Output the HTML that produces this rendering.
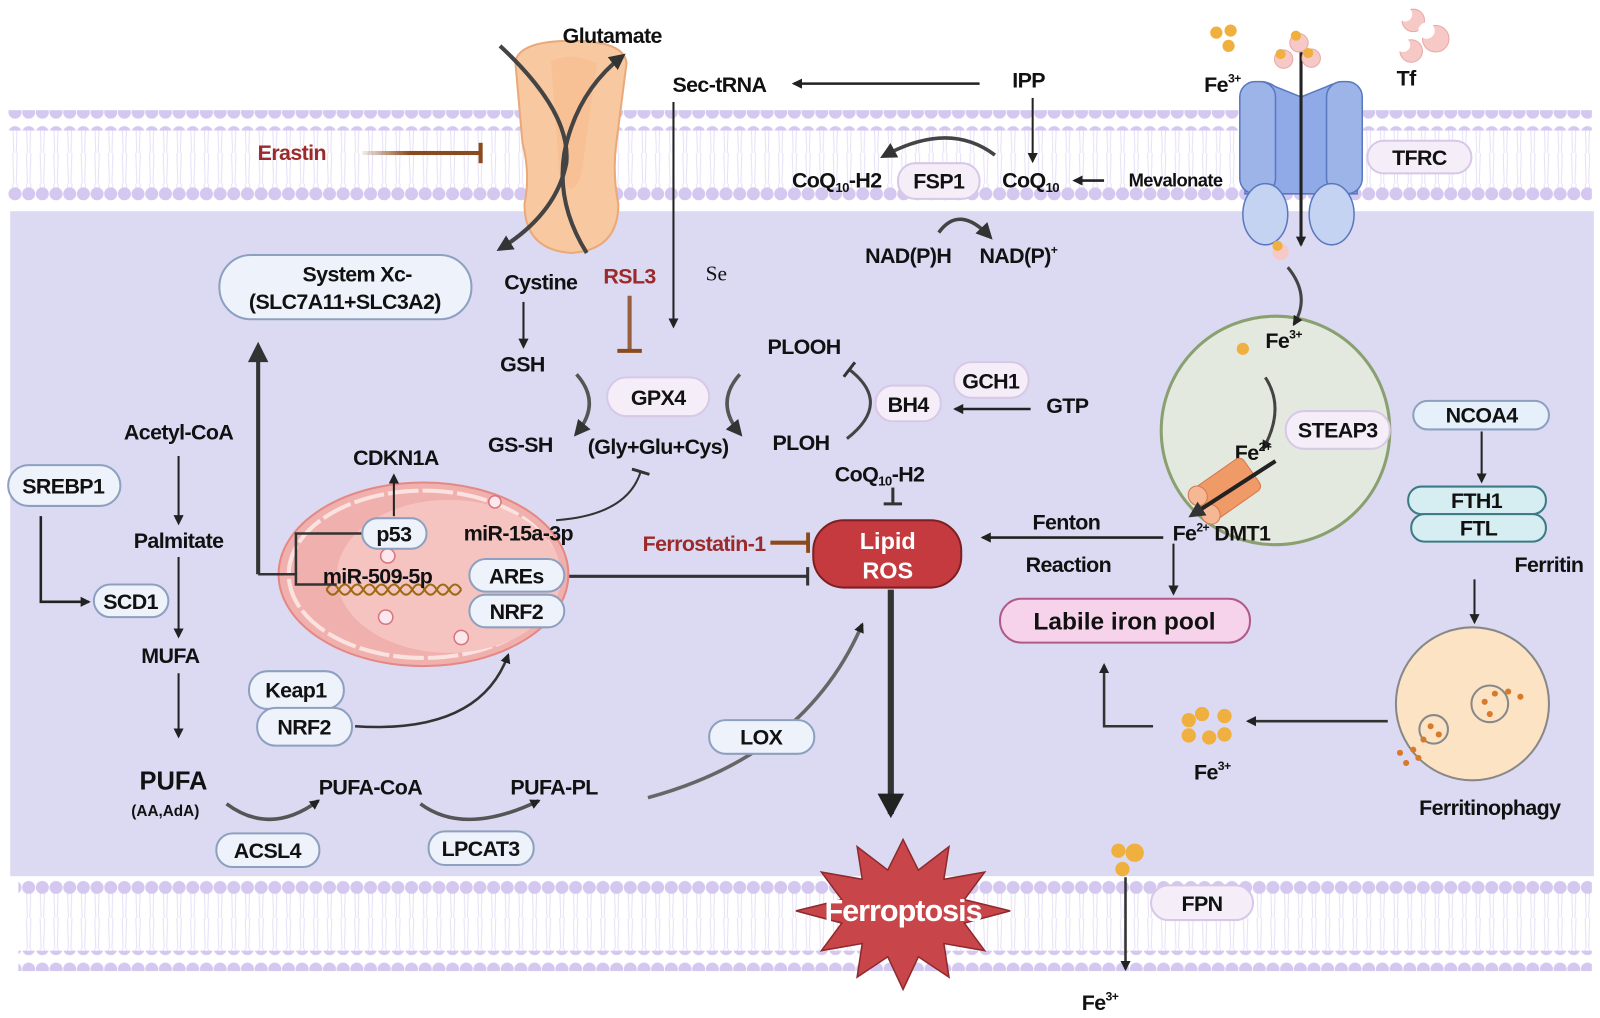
<!DOCTYPE html>
<html><head><meta charset="utf-8"><style>
html,body{margin:0;padding:0;background:#fff;}
svg{display:block}
text{font-family:"Liberation Sans",Arial,sans-serif;font-weight:bold;fill:#111;text-anchor:middle;}
.t{font-size:21px;letter-spacing:-0.6px}
.r{fill:#9b2a2a}
</style></head><body>
<svg width="1600" height="1018" viewBox="0 0 1568 998" preserveAspectRatio="none" xmlns="http://www.w3.org/2000/svg">
<defs>
<pattern id="dots" x="8" y="0" width="13.4" height="20" patternUnits="userSpaceOnUse"><circle cx="6.7" cy="10" r="6.4" fill="#d4c8f0"/></pattern>
<pattern id="tails" x="8" y="0" width="13.4" height="30" patternUnits="userSpaceOnUse"><path d="M4.5 0 L5.5 30 M8.9 0 L7.9 30" stroke="#e6e0f6" stroke-width="1" fill="none"/></pattern>
<marker id="a" markerWidth="10" markerHeight="10" refX="8" refY="5" orient="auto" markerUnits="userSpaceOnUse"><path d="M0 0 L10 5 L0 10 Z" fill="#222"/></marker>
<marker id="A" markerWidth="16" markerHeight="16" refX="12" refY="8" orient="auto" markerUnits="userSpaceOnUse"><path d="M0 0 L16 8 L0 16 Z" fill="#333"/></marker>
<marker id="tee" markerWidth="4" markerHeight="20" refX="2" refY="10" orient="auto" markerUnits="userSpaceOnUse"><rect x="0" y="0" width="4" height="20" fill="#8b4a1e"/></marker>
<marker id="teek" markerWidth="4" markerHeight="18" refX="2" refY="9" orient="auto" markerUnits="userSpaceOnUse"><rect x="0" y="0" width="3" height="18" fill="#333"/></marker>
<linearGradient id="br" gradientUnits="userSpaceOnUse" x1="355" y1="0" x2="472" y2="0"><stop offset="0" stop-color="#8b4a1e" stop-opacity="0.1"/><stop offset="0.4" stop-color="#8b4a1e"/></linearGradient>
</defs>
<!-- cytoplasm -->
<rect x="10" y="207" width="1552" height="652" fill="#dcdaf2"/>
<!-- top membrane -->
<rect x="8" y="126" width="1552" height="60" fill="url(#tails)"/>
<rect x="8" y="108" width="1552" height="20" fill="url(#dots)"/>
<rect x="8" y="183" width="1552" height="20" fill="url(#dots)"/>
<!-- bottom membrane -->
<rect x="18" y="860" width="1542" height="80" fill="#fff"/>
<rect x="18" y="876" width="1542" height="60" fill="url(#tails)"/>
<rect x="18" y="858" width="1542" height="20" fill="url(#dots)"/>
<rect x="18" y="932" width="1542" height="20" fill="url(#dots)"/>

<!-- transporter -->
<path d="M505 60 Q510 40 560 40 Q612 40 614 62 L604 140 Q600 170 606 200 Q606 245 560 248 Q514 245 514 200 Q520 170 512 140 Z" fill="#f8c9a0" stroke="#eaa97a" stroke-width="2"/>
<path d="M540 60 Q560 50 585 62 L570 170 Q560 200 548 170 Z" fill="#f5b98a" opacity="0.5"/>
<path d="M490 45 Q560 110 555 160 Q545 210 490 244" stroke="#444" stroke-width="4" fill="none" marker-end="url(#A)"/>
<path d="M575 248 Q545 200 553 150 Q565 90 610 55" stroke="#444" stroke-width="4" fill="none" marker-end="url(#A)"/>
<text class="t" x="600" y="42">Glutamate</text>

<text class="t" x="705" y="90">Sec-tRNA</text>
<line x1="960" y1="82" x2="778" y2="82" stroke="#222" stroke-width="2.5" marker-end="url(#a)"/>
<text class="t" x="1008" y="86">IPP</text>
<line x1="1012" y1="96" x2="1012" y2="158" stroke="#222" stroke-width="2" marker-end="url(#a)"/>
<text class="t" x="820" y="184">CoQ<tspan font-size="13" dy="4">10</tspan><tspan dy="-4">-H2</tspan></text>
<rect x="880" y="160" width="80" height="35" rx="17" fill="#f5eef9" stroke="#d8c8e8" stroke-width="2"/>
<text class="t" x="920" y="185">FSP1</text>
<text class="t" x="1010" y="184">CoQ<tspan font-size="13" dy="4">10</tspan></text>
<line x1="1082" y1="177" x2="1053" y2="177" stroke="#222" stroke-width="2.5" marker-end="url(#a)"/>
<text class="t" x="1152" y="183" style="font-size:18px">Mevalonate</text>
<path d="M975 152 Q930 118 866 153" stroke="#444" stroke-width="3.5" fill="none" marker-end="url(#A)"/>
<path d="M920 228 Q940 200 970 232" stroke="#444" stroke-width="3.5" fill="none" marker-end="url(#A)"/>
<text class="t" x="890" y="258">NAD(P)H</text>
<text class="t" x="998" y="258">NAD(P)<tspan font-size="12" dy="-9">+</tspan></text>

<text class="t r" x="286" y="157">Erastin</text>
<rect x="355" y="148" width="115" height="4" fill="url(#br)"/>
<rect x="469" y="140" width="4" height="20" fill="#8b4a1e"/>
<line x1="660" y1="100" x2="660" y2="320" stroke="#222" stroke-width="2" marker-end="url(#a)"/>
<text x="702" y="275" style="font-family:'Liberation Serif',serif;font-size:21px;font-weight:normal">Se</text>

<rect x="215" y="250" width="247" height="63" rx="31" fill="#eef3fb" stroke="#8da0c0" stroke-width="2"/>
<text class="t" x="350" y="276">System Xc-</text>
<text class="t" x="338" y="303">(SLC7A11+SLC3A2)</text>
<text class="t" x="530" y="284">Cystine</text>
<text class="t r" x="617" y="278">RSL3</text>
<line x1="617" y1="290" x2="617" y2="344" stroke="#8b4a1e" stroke-width="4" opacity="0.85"/>
<line x1="605" y1="344" x2="629" y2="344" stroke="#8b4a1e" stroke-width="4"/>
<line x1="513" y1="296" x2="513" y2="340" stroke="#222" stroke-width="2" marker-end="url(#a)"/>
<text class="t" x="512" y="364">GSH</text>
<rect x="595" y="370" width="100" height="38" rx="19" fill="#f5eef9" stroke="#d8c8e8" stroke-width="2"/>
<text class="t" x="645" y="397">GPX4</text>
<path d="M565 367 Q590 395 565 425" stroke="#555" stroke-width="3.5" fill="none" marker-end="url(#A)"/>
<path d="M725 367 Q700 395 725 425" stroke="#555" stroke-width="3.5" fill="none" marker-end="url(#A)"/>
<text class="t" x="510" y="443">GS-SH</text>
<text class="t" x="645" y="445">(Gly+Glu+Cys)</text>
<text class="t" x="788" y="347">PLOOH</text>
<text class="t" x="785" y="441">PLOH</text>
<path d="M830 430 Q875 395 832 362" stroke="#444" stroke-width="3" fill="none" marker-end="url(#teek)"/>
<rect x="858" y="378" width="64" height="35" rx="17" fill="#f5eef9" stroke="#d8c8e8" stroke-width="2"/>
<text class="t" x="890" y="404">BH4</text>
<rect x="935" y="355" width="73" height="35" rx="17" fill="#f5eef9" stroke="#d8c8e8" stroke-width="2"/>
<text class="t" x="971" y="381">GCH1</text>
<text class="t" x="1046" y="405">GTP</text>
<line x1="1010" y1="401" x2="936" y2="401" stroke="#222" stroke-width="2.5" marker-end="url(#a)"/>
<text class="t" x="862" y="472">CoQ<tspan font-size="13" dy="4">10</tspan><tspan dy="-4">-H2</tspan></text>
<line x1="875" y1="478" x2="875" y2="494" stroke="#333" stroke-width="3"/>
<line x1="866" y1="494" x2="884" y2="494" stroke="#333" stroke-width="3"/>

<!-- Lipid ROS -->
<rect x="797" y="510" width="145" height="66" rx="30" fill="#c43a3e" stroke="#7e1f22" stroke-width="2"/>
<text x="870" y="538" style="fill:#fff;font-size:23px">Lipid</text>
<text x="870" y="567" style="fill:#fff;font-size:23px">ROS</text>
<text class="t r" x="690" y="540">Ferrostatin-1</text>
<line x1="755" y1="532" x2="792" y2="532" stroke="#8b4a1e" stroke-width="4" marker-end="url(#tee)"/>
<line x1="553" y1="565" x2="792" y2="565" stroke="#333" stroke-width="3" marker-end="url(#teek)"/>
<line x1="873" y1="578" x2="873" y2="798" stroke="#333" stroke-width="6"/>
<path d="M860 778 L886 778 L873 802 Z" fill="#222"/>
<!-- Ferroptosis -->
<polygon points="885,823 900,853 930,830 925,862 965,855 945,882 990,893 945,905 965,932 925,925 930,958 900,938 885,970 870,938 840,958 845,925 805,932 825,905 780,893 825,882 805,855 845,862 840,830 870,853" fill="#c8464a" stroke="#8e2a2d" stroke-width="1.5"/>
<text x="885" y="903" style="fill:#fff;font-size:30px;letter-spacing:-1px">Ferroptosis</text>

<text class="t" x="1045" y="519">Fenton</text>
<text class="t" x="1047" y="561">Reaction</text>
<line x1="1140" y1="527" x2="963" y2="527" stroke="#222" stroke-width="2.5" marker-end="url(#a)"/>
<line x1="1150" y1="533" x2="1150" y2="582" stroke="#222" stroke-width="2" marker-end="url(#a)"/>
<rect x="980" y="587" width="245" height="43" rx="21" fill="#f6d3ea" stroke="#b05a8a" stroke-width="2"/>
<text x="1102" y="617" style="font-size:24px">Labile iron pool</text>
<path d="M1130 712 L1082 712 L1082 652" stroke="#333" stroke-width="2.5" fill="none" marker-end="url(#a)"/>
<g fill="#f0b040"><circle cx="1165" cy="706" r="7"/><circle cx="1178" cy="700" r="7"/><circle cx="1200" cy="702" r="7"/><circle cx="1165" cy="721" r="7"/><circle cx="1185" cy="723" r="7"/><circle cx="1200" cy="720" r="7"/></g>
<text class="t" x="1188" y="764">Fe<tspan font-size="12" dy="-9">3+</tspan></text>
<line x1="1360" y1="707" x2="1223" y2="707" stroke="#333" stroke-width="2.5" marker-end="url(#a)"/>
<circle cx="1443" cy="690" r="75" fill="#fbe3c4" stroke="#888" stroke-width="2"/>
<circle cx="1460" cy="690" r="18" fill="#fbe3c4" stroke="#888" stroke-width="2"/>
<circle cx="1405" cy="715" r="14" fill="#fbe3c4" stroke="#888" stroke-width="2"/>
<g fill="#d97a2a"><circle cx="1455" cy="688" r="3"/><circle cx="1465" cy="680" r="3"/><circle cx="1478" cy="678" r="3"/><circle cx="1490" cy="683" r="3"/><circle cx="1402" cy="712" r="3"/><circle cx="1410" cy="720" r="3"/><circle cx="1395" cy="725" r="3"/><circle cx="1385" cy="735" r="3"/><circle cx="1372" cy="738" r="3"/><circle cx="1378" cy="748" r="3"/><circle cx="1390" cy="743" r="3"/><circle cx="1460" cy="700" r="3"/></g>
<text class="t" x="1460" y="799">Ferritinophagy</text>

<rect x="1385" y="393" width="133" height="28" rx="14" fill="#e6f0fa" stroke="#8da0c0" stroke-width="2"/>
<text class="t" x="1452" y="414">NCOA4</text>
<line x1="1452" y1="423" x2="1452" y2="472" stroke="#222" stroke-width="2" marker-end="url(#a)"/>
<rect x="1380" y="477" width="135" height="27" rx="13" fill="#d6eef2" stroke="#3c7a86" stroke-width="2"/>
<text class="t" x="1447" y="498">FTH1</text>
<rect x="1383" y="504" width="132" height="27" rx="13" fill="#d6eef2" stroke="#3c7a86" stroke-width="2"/>
<text class="t" x="1449" y="525">FTL</text>
<text class="t" x="1518" y="561">Ferritin</text>
<line x1="1445" y1="568" x2="1445" y2="610" stroke="#222" stroke-width="2" marker-end="url(#a)"/>

<!-- endosome -->
<circle cx="1250" cy="422" r="112" fill="#e4e9e0" stroke="#8aa070" stroke-width="3"/>
<circle cx="1218" cy="342" r="6" fill="#f0b040"/>
<text class="t" x="1258" y="341">Fe<tspan font-size="12" dy="-9">3+</tspan></text>
<path d="M1240 370 Q1260 400 1238 440" stroke="#444" stroke-width="3" fill="none" marker-end="url(#a)"/>
<rect x="1260" y="403" width="102" height="37" rx="18" fill="#f5eef9" stroke="#d8c8e8" stroke-width="2"/>
<text class="t" x="1311" y="429">STEAP3</text>
<text class="t" x="1228" y="451">Fe<tspan font-size="12" dy="-9">2+</tspan></text>
<g transform="rotate(-35 1200 480)"><rect x="1172" y="462" width="60" height="38" rx="6" fill="#f09a68" stroke="#d2784a"/><ellipse cx="1175" cy="470" rx="9" ry="10" fill="#f6b894" stroke="#d2784a"/><ellipse cx="1175" cy="492" rx="9" ry="10" fill="#f6b894" stroke="#d2784a"/></g>
<line x1="1250" y1="452" x2="1168" y2="505" stroke="#222" stroke-width="4" marker-end="url(#A)"/>
<text class="t" x="1197" y="530">Fe<tspan font-size="12" dy="-9">2+</tspan><tspan dy="9"> DMT1</tspan></text>
<path d="M1262 262 Q1285 290 1268 318" stroke="#444" stroke-width="3" fill="none" marker-end="url(#a)"/>

<!-- TFRC receptor -->
<path d="M1225 85 Q1235 75 1250 85 L1275 95 L1300 85 Q1320 75 1333 88 L1330 190 L1220 190 Z" fill="#8faae6" stroke="#5a78c0" stroke-width="1.5"/>
<rect x="1215" y="80" width="35" height="110" rx="15" fill="#9db4e8" stroke="#5a78c0" stroke-width="1.5"/>
<rect x="1300" y="80" width="35" height="110" rx="15" fill="#9db4e8" stroke="#5a78c0" stroke-width="1.5"/>
<ellipse cx="1240" cy="210" rx="22" ry="30" fill="#c5d3f2" stroke="#5a78c0" stroke-width="1.5"/>
<ellipse cx="1305" cy="210" rx="22" ry="30" fill="#c5d3f2" stroke="#5a78c0" stroke-width="1.5"/>
<line x1="1275" y1="50" x2="1275" y2="240" stroke="#222" stroke-width="3" marker-end="url(#a)"/>
<circle cx="1255" cy="247" r="8" fill="#f6c9c6"/><circle cx="1252" cy="241" r="5" fill="#f0b040"/>
<rect x="1340" y="138" width="102" height="32" rx="16" fill="#f5eef9" stroke="#d8c8e8" stroke-width="2"/>
<text class="t" x="1391" y="162">TFRC</text>
<text class="t" x="1198" y="90">Fe<tspan font-size="12" dy="-9">3+</tspan></text>
<g fill="#f0b040"><circle cx="1192" cy="32" r="6"/><circle cx="1206" cy="30" r="6"/><circle cx="1204" cy="45" r="6"/></g>
<g fill="#f6c9c6" stroke="#e8a8a8"><circle cx="1273" cy="42" r="9"/><circle cx="1258" cy="58" r="9"/><circle cx="1285" cy="57" r="9"/></g>
<g fill="#f0b040"><circle cx="1270" cy="35" r="5"/><circle cx="1255" cy="53" r="5"/><circle cx="1282" cy="52" r="5"/></g>
<g fill="#f6c9c6" stroke="#e8a8a8"><circle cx="1385" cy="20" r="11"/><circle cx="1407" cy="38" r="13"/><circle cx="1383" cy="50" r="11"/></g>
<g fill="#fff"><circle cx="1377" cy="14" r="7"/><circle cx="1398" cy="30" r="8"/><circle cx="1375" cy="44" r="7"/></g>
<text class="t" x="1378" y="84">Tf</text>

<!-- left pathway -->
<rect x="8" y="456" width="110" height="40" rx="20" fill="#eef3fb" stroke="#8da0c0" stroke-width="2"/>
<text class="t" x="62" y="484">SREBP1</text>
<path d="M40 506 L40 590 L87 590" stroke="#222" stroke-width="2.5" fill="none" marker-end="url(#a)"/>
<rect x="92" y="573" width="73" height="32" rx="16" fill="#eef3fb" stroke="#8da0c0" stroke-width="2"/>
<text class="t" x="128" y="597">SCD1</text>
<text class="t" x="175" y="431">Acetyl-CoA</text>
<text class="t" x="175" y="537">Palmitate</text>
<text class="t" x="167" y="650">MUFA</text>
<text x="170" y="774" style="font-size:25px">PUFA</text>
<text x="162" y="800" style="font-size:15px">(AA,AdA)</text>
<line x1="175" y1="447" x2="175" y2="513" stroke="#222" stroke-width="2" marker-end="url(#a)"/>
<line x1="175" y1="546" x2="175" y2="624" stroke="#222" stroke-width="2" marker-end="url(#a)"/>
<line x1="175" y1="660" x2="175" y2="722" stroke="#222" stroke-width="2" marker-end="url(#a)"/>
<line x1="253" y1="563" x2="253" y2="345" stroke="#333" stroke-width="4"/>
<path d="M243 355 L253 335 L263 355 Z" fill="#333"/>

<!-- nucleus -->
<ellipse cx="415" cy="563" rx="142" ry="90" fill="#f0b0ae" stroke="#e58884" stroke-width="2"/>
<ellipse cx="415" cy="563" rx="132" ry="82" fill="none" stroke="#fbe2df" stroke-width="4" stroke-dasharray="30 4"/>
<ellipse cx="440" cy="565" rx="110" ry="75" fill="#f6c4c0"/>
<g fill="#fbe8ee" stroke="#d8757a" stroke-width="1.5"><circle cx="380" cy="545" r="7"/><circle cx="378" cy="605" r="7"/><circle cx="452" cy="625" r="7"/><circle cx="485" cy="492" r="6"/></g>
<path d="M320 578 q6 -10 12 0 t12 0 t12 0 t12 0 t12 0 t12 0 t12 0 t12 0 t12 0 t12 0 t12 0" stroke="#9c6a10" stroke-width="2" fill="none"/>
<path d="M320 578 q6 10 12 0 t12 0 t12 0 t12 0 t12 0 t12 0 t12 0 t12 0 t12 0 t12 0 t12 0" stroke="#9c6a10" stroke-width="2" fill="none"/>
<path d="M253 563 L290 563 L290 573 L330 573" stroke="#333" stroke-width="2.5" fill="none"/>
<path d="M290 563 L290 523 L355 523" stroke="#333" stroke-width="2.5" fill="none"/>
<rect x="355" y="508" width="63" height="30" rx="15" fill="#eef3fb" stroke="#8da0c0" stroke-width="2"/>
<text class="t" x="386" y="531">p53</text>
<line x1="386" y1="506" x2="386" y2="466" stroke="#222" stroke-width="2" marker-end="url(#a)"/>
<text class="t" x="388" y="456">CDKN1A</text>
<text class="t" x="508" y="530">miR-15a-3p</text>
<text class="t" x="370" y="572">miR-509-5p</text>
<rect x="460" y="548" width="93" height="32" rx="16" fill="#eef3fb" stroke="#8da0c0" stroke-width="2"/>
<text class="t" x="506" y="572">AREs</text>
<rect x="460" y="583" width="93" height="32" rx="16" fill="#eef3fb" stroke="#8da0c0" stroke-width="2"/>
<text class="t" x="506" y="607">NRF2</text>
<path d="M545 510 Q615 505 628 462" stroke="#333" stroke-width="2" fill="none" marker-end="url(#teek)"/>
<rect x="244" y="658" width="93" height="37" rx="18" fill="#eef3fb" stroke="#8da0c0" stroke-width="2"/>
<text class="t" x="290" y="684">Keap1</text>
<rect x="252" y="694" width="93" height="37" rx="18" fill="#eef3fb" stroke="#8da0c0" stroke-width="2"/>
<text class="t" x="298" y="720">NRF2</text>
<path d="M348 712 Q470 720 498 642" stroke="#333" stroke-width="2.5" fill="none" marker-end="url(#a)"/>

<text class="t" x="363" y="779">PUFA-CoA</text>
<text class="t" x="543" y="779">PUFA-PL</text>
<path d="M222 788 Q265 820 312 785" stroke="#555" stroke-width="3.5" fill="none" marker-end="url(#a)"/>
<path d="M412 788 Q455 820 528 785" stroke="#555" stroke-width="3.5" fill="none" marker-end="url(#a)"/>
<rect x="212" y="817" width="101" height="33" rx="16" fill="#eef3fb" stroke="#8da0c0" stroke-width="2"/>
<text class="t" x="262" y="841">ACSL4</text>
<rect x="420" y="815" width="103" height="33" rx="16" fill="#eef3fb" stroke="#8da0c0" stroke-width="2"/>
<text class="t" x="471" y="839">LPCAT3</text>
<path d="M635 782 Q790 740 845 612" stroke="#666" stroke-width="3.5" fill="none" marker-end="url(#a)"/>
<rect x="695" y="706" width="103" height="33" rx="16" fill="#eef3fb" stroke="#8da0c0" stroke-width="2"/>
<text class="t" x="746" y="730">LOX</text>

<!-- FPN -->
<g fill="#f0b040"><circle cx="1096" cy="834" r="7"/><circle cx="1112" cy="836" r="9"/><circle cx="1100" cy="852" r="7"/></g>
<line x1="1103" y1="860" x2="1103" y2="950" stroke="#333" stroke-width="2.5" marker-end="url(#a)"/>
<rect x="1128" y="868" width="100" height="34" rx="17" fill="#f5eef9" stroke="#d8c8e8" stroke-width="2"/>
<text class="t" x="1178" y="893">FPN</text>
<text class="t" x="1078" y="990">Fe<tspan font-size="12" dy="-9">3+</tspan></text>
</svg>
</body></html>
